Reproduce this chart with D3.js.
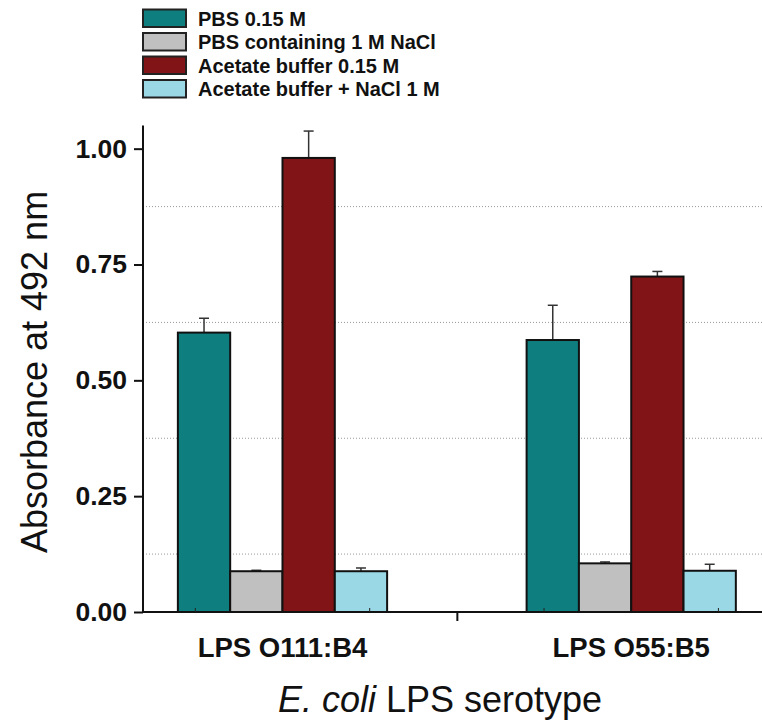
<!DOCTYPE html>
<html>
<head>
<meta charset="utf-8">
<script src="https://cdn.jsdelivr.net/npm/d3@7"></script>
<style>
  body { margin: 0; background: #fff; }
  text { font-family: "Liberation Sans", Arial, sans-serif; }
</style>
</head>
<body>
<script>
// values
var categories = ["LPS O111:B4", "LPS O55:B5"];
var seriesNames = ["PBS 0.15 M", "PBS containing 1 M NaCl", "Acetate buffer 0.15 M", "Acetate buffer + NaCl 1 M"];
var seriesColors = ["#0e7f7e", "#c0c0c0", "#801417", "#9ad8e6"];
var pbs = [0.603, 0.587];
var pbsNacl = [0.088, 0.105];
var acetate = [0.980, 0.724];
var acetateNacl = [0.088, 0.089];
var pbsErr = [0.031, 0.075];
var pbsNaclErr = [0.002, 0.003];
var acetateErr = [0.058, 0.011];
var acetateNaclErr = [0.007, 0.014];
var yTicks = [0, 0.25, 0.5, 0.75, 1.0];
var yGrid = [0.125, 0.375, 0.625, 0.875];

var values = [pbs, pbsNacl, acetate, acetateNacl];
var errors = [pbsErr, pbsNaclErr, acetateErr, acetateNaclErr];

var width = 762, height = 723;
var svg = d3.select("body").append("svg")
            .attr("width", width)
            .attr("height", height);

var x = d3.scaleLinear().domain([0.6, 2.375]).range([143, 762]);
var y = d3.scaleLinear().domain([0, 1.05]).range([612, 125.5]);
var barW = 0.15;

// dotted grid lines behind the bars
svg.selectAll(".grid").data(yGrid).enter().append("line")
   .attr("x1", x(0.6)).attr("x2", width)
   .attr("y1", function(d) { return y(d); })
   .attr("y2", function(d) { return y(d); })
   .attr("stroke", "#999")
   .attr("stroke-width", 1)
   .attr("stroke-dasharray", "1,2");

// flatten into bar records
var bars = [];
values.forEach(function(s, si) {
  s.forEach(function(v, ci) {
    bars.push({ s: si, c: ci, v: v, e: errors[si][ci] });
  });
});

var left = function(d) { return x(d.c + 1 - 2 * barW + d.s * barW); };
var mid = function(d) { return x(d.c + 1 - 1.5 * barW + d.s * barW); };

// error bars (upper only)
svg.selectAll(".err").data(bars).enter().append("line")
   .attr("x1", mid).attr("x2", mid)
   .attr("y1", function(d) { return y(d.v); })
   .attr("y2", function(d) { return y(d.v + d.e); })
   .attr("stroke", "#333").attr("stroke-width", 1.5);
svg.selectAll(".cap").data(bars).enter().append("line")
   .attr("x1", function(d) { return mid(d) - 5; })
   .attr("x2", function(d) { return mid(d) + 5; })
   .attr("y1", function(d) { return y(d.v + d.e); })
   .attr("y2", function(d) { return y(d.v + d.e); })
   .attr("stroke", "#333").attr("stroke-width", 1.5);

svg.selectAll(".bar").data(bars).enter().append("rect")
   .attr("x", left)
   .attr("width", x(1 + barW) - x(1))
   .attr("y", function(d) { return y(d.v); })
   .attr("height", function(d) { return y(0) - y(d.v); })
   .attr("fill", function(d) { return seriesColors[d.s]; })
   .attr("stroke", "#111")
   .attr("stroke-width", 2);

// y axis
var yAxis = svg.append("g")
               .attr("transform", "translate(" + x(0.6) + ",0)")
               .call(d3.axisLeft(y).tickValues(yTicks).tickSize(9).tickPadding(7)
                       .tickFormat(d3.format(".2f")));
yAxis.select(".domain").attr("d", "M0," + y(1.05) + "V" + y(0)).attr("stroke-width", 2).attr("stroke", "#111");
yAxis.selectAll(".tick line").attr("stroke-width", 2).attr("stroke", "#111");
yAxis.selectAll(".tick text")
     .attr("font-size", 26.5).attr("font-weight", "bold").attr("fill", "#111")
     .attr("font-family", "Liberation Sans, Arial, sans-serif");

// x axis
var xAxis = svg.append("g")
               .attr("transform", "translate(0," + y(0) + ")")
               .call(d3.axisBottom(x).tickValues([1.5]).tickSize(9).tickFormat(""));
xAxis.select(".domain").attr("d", "M" + x(0.6) + ",0H" + width).attr("stroke-width", 2).attr("stroke", "#111");
xAxis.selectAll(".tick line").attr("stroke-width", 2).attr("stroke", "#111");
svg.selectAll(".minor").data([0.75, 1.25, 1.75, 2.25]).enter().append("line")
   .attr("x1", function(d) { return x(d); }).attr("x2", function(d) { return x(d); })
   .attr("y1", y(0)).attr("y2", y(0) - 4)
   .attr("stroke", "#222").attr("stroke-width", 1);

svg.selectAll(".cat").data(categories).enter().append("text")
   .attr("x", function(d, i) { return x(i + 1); })
   .attr("y", 657)
   .attr("text-anchor", "middle")
   .attr("font-size", 27.5).attr("font-weight", "bold").attr("fill", "#111")
   .text(function(d) { return d; });

// axis titles
svg.append("text")
   .attr("transform", "translate(47,372) rotate(-90)")
   .attr("text-anchor", "middle")
   .attr("font-size", 36).attr("fill", "#111")
   .text("Absorbance at 492 nm");

var xt = svg.append("text")
            .attr("x", 440).attr("y", 712)
            .attr("text-anchor", "middle")
            .attr("font-size", 36).attr("fill", "#111");
xt.append("tspan").attr("font-style", "italic").text("E. coli");
xt.append("tspan").text(" LPS serotype");

// legend
var legend = svg.selectAll(".legend").data(seriesNames).enter().append("g")
                .attr("transform", function(d, i) { return "translate(143," + (9.5 + i * 23.5) + ")"; });
legend.append("rect")
      .attr("width", 43).attr("height", 17.5)
      .attr("fill", function(d, i) { return seriesColors[i]; })
      .attr("stroke", "#222").attr("stroke-width", 2);
legend.append("text")
      .attr("x", 55).attr("y", 16)
      .attr("font-size", 20).attr("font-weight", "bold").attr("fill", "#111")
      .text(function(d) { return d; });
</script>
</body>
</html>
